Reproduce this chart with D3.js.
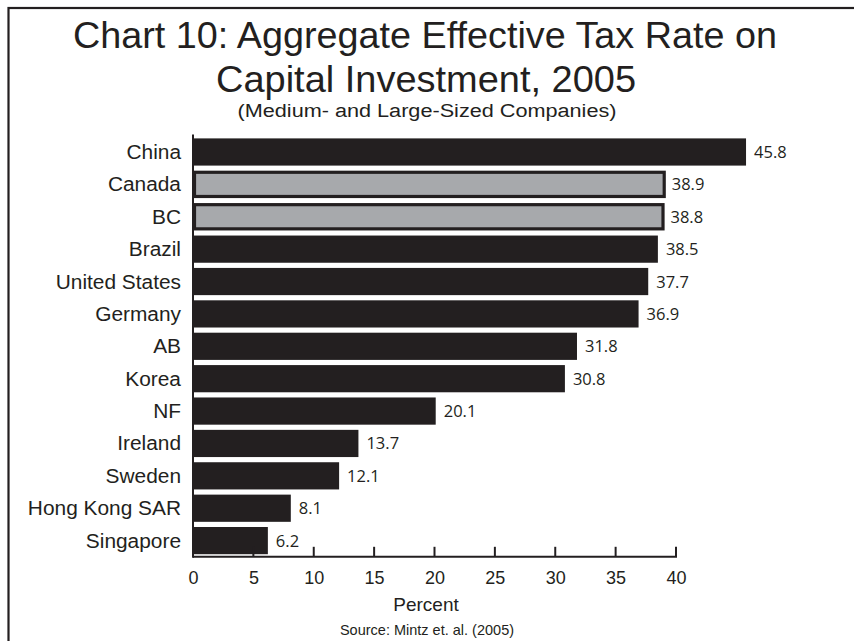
<!DOCTYPE html>
<html>
<head>
<meta charset="utf-8">
<script src="https://cdn.jsdelivr.net/npm/d3@7"></script>
<style>
  body { margin: 0; background: #fff; }
  text { fill: #231f20; }
</style>
</head>
<body>
<div id="chart"></div>
<script>
/* DATA */
const countries = ["China", "Canada", "BC", "Brazil", "United States", "Germany", "AB",
  "Korea", "NF", "Ireland", "Sweden", "Hong Kong SAR", "Singapore"];
const rates = [45.8, 38.9, 38.8, 38.5, 37.7, 36.9, 31.8, 30.8, 20.1, 13.7, 12.1, 8.1, 6.2];
const highlighted = ["Canada", "BC"];
const xTicks = [0, 5, 10, 15, 20, 25, 30, 35, 40];

/* CONSTANTS */
const width = 854, height = 641;
const dark = "#231f20", grey = "#a7a9ac";
const sans = "'Liberation Sans', Arial, sans-serif";

const svg = d3.select("#chart").append("svg")
  .attr("width", width)
  .attr("height", height);

// widen a text a bit, the original type is set wider than Arial
function stretch(sel, factor) {
  sel.each(function () {
    const len = this.getComputedTextLength();
    d3.select(this)
      .attr("textLength", len * factor)
      .attr("lengthAdjust", "spacingAndGlyphs");
  });
}

// frame (only top and left edges fall inside the picture)
svg.append("rect")
  .attr("x", 8.5).attr("y", 8)
  .attr("width", 900).attr("height", 700)
  .attr("fill", "none")
  .attr("stroke", dark)
  .attr("stroke-width", 2.2);

// titles
const cx = 425;
svg.append("text").attr("x", cx).attr("y", 48)
  .attr("text-anchor", "middle").attr("font-family", sans).attr("font-size", 36)
  .attr("textLength", 704).attr("lengthAdjust", "spacingAndGlyphs")
  .text("Chart 10: Aggregate Effective Tax Rate on");
svg.append("text").attr("x", cx + 1).attr("y", 92)
  .attr("text-anchor", "middle").attr("font-family", sans).attr("font-size", 36)
  .attr("textLength", 420).attr("lengthAdjust", "spacingAndGlyphs")
  .text("Capital Investment, 2005");
svg.append("text").attr("x", cx + 2).attr("y", 117)
  .attr("text-anchor", "middle").attr("font-family", sans).attr("font-size", 18)
  .attr("textLength", 379).attr("lengthAdjust", "spacingAndGlyphs")
  .text("(Medium- and Large-Sized Companies)");

/* SCALES */
const xScale = d3.scaleLinear().domain([0, 40]).range([193, 676]);
const yScale = d3.scaleBand()
  .domain(countries)
  .range([135.8, 556.8])
  .paddingInner(0.16)
  .paddingOuter(0.08);

const rows = countries.map((c, i) => ({ country: c, rate: rates[i], hi: highlighted.includes(c) }));

// bars
svg.selectAll("rect.bar")
  .data(rows)
  .join("rect")
  .attr("class", "bar")
  .attr("x", d => xScale(0) + (d.hi ? 1.5 : 0))
  .attr("y", d => yScale(d.country) + (d.hi ? 1.5 : 0))
  .attr("width", d => xScale(d.rate) - xScale(0))
  .attr("height", d => yScale.bandwidth() - (d.hi ? 3 : 0))
  .attr("fill", d => d.hi ? grey : dark)
  .attr("stroke", d => d.hi ? dark : "none")
  .attr("stroke-width", 3.2);

// value labels
svg.selectAll("text.val")
  .data(rows)
  .join("text")
  .attr("class", "val")
  .attr("x", d => xScale(d.rate) + (d.hi ? 9 : 8))
  .attr("y", d => yScale(d.country) + yScale.bandwidth() / 2 + 6)
  .attr("font-family", "'Open Sans', sans-serif")
  .attr("font-size", 16.5)
  .text(d => d.rate.toFixed(1));

// category labels
const cats = svg.selectAll("text.cat")
  .data(rows)
  .join("text")
  .attr("class", "cat")
  .attr("x", 181)
  .attr("y", d => yScale(d.country) + yScale.bandwidth() / 2 + 7)
  .attr("text-anchor", "end")
  .attr("font-family", sans)
  .attr("font-size", 19.5)
  .text(d => d.country);
stretch(cats, 1.07);

/* AXES */
const axisY = 556.8;
const xAxis = d3.axisBottom(xScale).tickValues(xTicks).tickSize(0).tickPadding(14);
const gx = svg.append("g")
  .attr("transform", `translate(0, ${axisY})`)
  .call(xAxis);
gx.select(".domain").remove();
gx.selectAll("text")
  .attr("font-family", sans)
  .attr("font-size", 18)
  .attr("fill", dark);

// tick marks pointing up
svg.selectAll("line.tick")
  .data(xTicks)
  .join("line")
  .attr("class", "tick")
  .attr("x1", d => xScale(d)).attr("x2", d => xScale(d))
  .attr("y1", axisY).attr("y2", axisY - 10)
  .attr("stroke", dark).attr("stroke-width", 2);

// axis lines
svg.append("line")
  .attr("x1", xScale(0)).attr("x2", xScale(40) + 1)
  .attr("y1", axisY).attr("y2", axisY)
  .attr("stroke", dark).attr("stroke-width", 2);
svg.append("line")
  .attr("x1", xScale(0)).attr("x2", xScale(0))
  .attr("y1", 134.5).attr("y2", axisY + 1)
  .attr("stroke", dark).attr("stroke-width", 2);

const pct = svg.append("text").attr("x", 426).attr("y", 611)
  .attr("text-anchor", "middle").attr("font-family", sans).attr("font-size", 19)
  .text("Percent");
svg.append("text").attr("x", 427).attr("y", 635)
  .attr("text-anchor", "middle").attr("font-family", sans).attr("font-size", 14.5)
  .text("Source: Mintz et. al. (2005)");
</script>
</body>
</html>
